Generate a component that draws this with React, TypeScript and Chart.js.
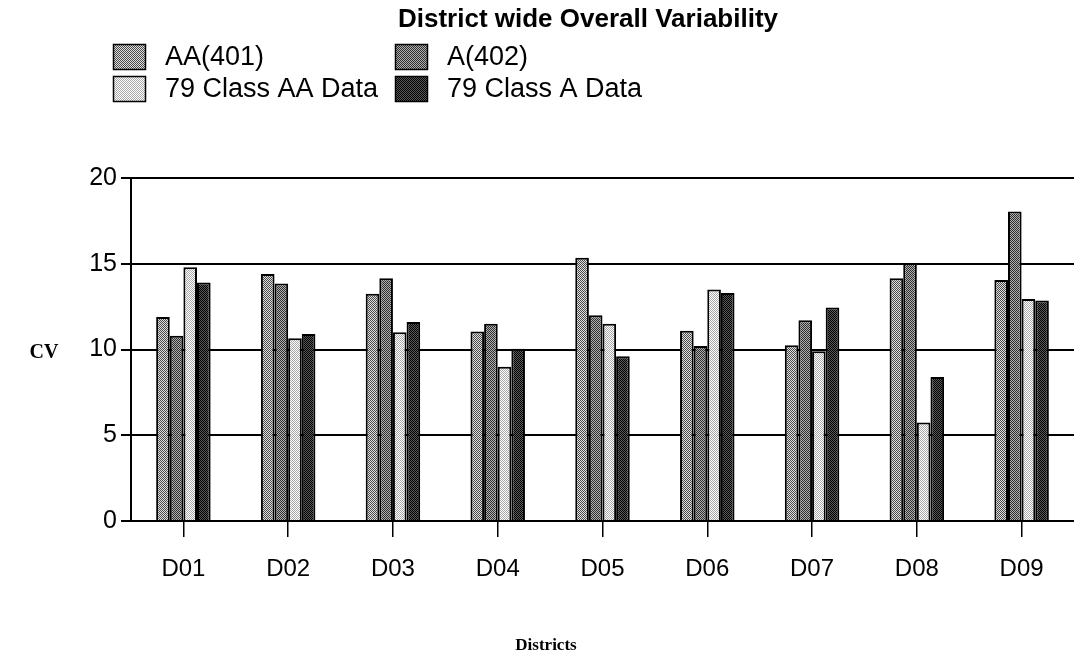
import { useEffect, useRef } from 'react';
import { Chart, registerables } from 'chart.js';

Chart.register(...registerables);

const titleText = 'District wide Overall Variability';
const xAxisTitle = 'Districts';
const yAxisTitle = 'CV';
const categories = ['D01', 'D02', 'D03', 'D04', 'D05', 'D06', 'D07', 'D08', 'D09'];
const seriesNames = ['AA(401)', 'A(402)', '79 Class AA Data', '79 Class A Data'];
const aa401 = [11.9, 14.4, 13.25, 11.05, 15.35, 11.1, 10.25, 14.15, 14.05];
const a402 = [10.8, 13.85, 14.15, 11.5, 12.0, 10.2, 11.7, 15.05, 18.05];
const class79AA = [14.8, 10.65, 11.0, 9.0, 11.5, 13.5, 9.9, 5.75, 12.95];
const class79A = [13.9, 10.9, 11.6, 10.05, 9.6, 13.3, 12.45, 8.4, 12.85];
const yMin = 0;
const yMax = 20;
const yStep = 5;

// pattern tones: [dark pixel, light pixel]
const patternTones: [string, string][] = [
  ['#4a4a4a', '#e0e0e0'],
  ['#2e2e2e', '#b0b0b0'],
  ['#a8a8a8', '#ffffff'],
  ['#000000', '#5a5a5a'],
];

function makePattern(ctx: CanvasRenderingContext2D, dark: string, light: string) {
  const tile = document.createElement('canvas');
  tile.width = 4;
  tile.height = 4;
  const t = tile.getContext('2d')!;
  for (let y = 0; y < 4; y++) {
    for (let x = 0; x < 4; x++) {
      t.fillStyle = (x + y) % 2 === 0 ? dark : light;
      t.fillRect(x, y, 1, 1);
    }
  }
  return ctx.createPattern(tile, 'repeat')!;
}

export default function App() {
  const ref = useRef<HTMLCanvasElement | null>(null);

  useEffect(() => {
    document.body.style.margin = '0';
    const canvas = ref.current!;
    const ctx = canvas.getContext('2d')!;
    const patterns = patternTones.map(([d, l]) => makePattern(ctx, d, l));
    const seriesData = [aa401, a402, class79AA, class79A];

    const deco = {
      id: 'deco',
      afterDraw(chart: any) {
        const c = chart.ctx as CanvasRenderingContext2D;
        c.save();
        c.fillStyle = '#000';
        c.textBaseline = 'middle';
        c.textAlign = 'center';
        c.font = 'bold 26px "Liberation Sans", Arial, sans-serif';
        c.fillText(titleText, 588, 20);

        const colX = [113, 395];
        const rowY = [44, 76];
        seriesNames.forEach((name, i) => {
          const col = i % 2;
          const row = Math.floor(i / 2);
          const bx = colX[col];
          const by = rowY[row];
          c.fillStyle = patterns[i];
          c.fillRect(bx, by, 33, 26);
          c.strokeStyle = '#000';
          c.lineWidth = 1.5;
          c.strokeRect(bx + 0.5, by + 0.5, 32, 25);
          c.fillStyle = '#000';
          c.textAlign = 'left';
          c.font = '27px "Liberation Sans", Arial, sans-serif';
          c.fillText(name, bx + 52, by + 14);
        });

        c.textAlign = 'center';
        c.font = 'bold 20px "Liberation Serif", "Times New Roman", serif';
        c.fillText(yAxisTitle, 44, 353);
        c.font = 'bold 17px "Liberation Serif", "Times New Roman", serif';
        c.fillText(xAxisTitle, 546, 646);
        c.restore();
      },
    };

    const chart = new Chart(canvas, {
      type: 'bar',
      data: {
        labels: categories,
        datasets: seriesNames.map((name, i) => ({
          label: name,
          data: seriesData[i],
          backgroundColor: patterns[i],
          borderColor: '#000',
          borderWidth: 2,
          categoryPercentage: 0.52,
          barPercentage: 1.0,
        })),
      },
      options: {
        responsive: false,
        animation: false,
        layout: { padding: { top: 178, left: 0, right: -4, bottom: 0 } },
        plugins: {
          legend: { display: false },
          title: { display: false },
          tooltip: { enabled: false },
        },
        scales: {
          x: {
            afterFit: (s: any) => {
              s.height = 137;
            },
            grid: {
              display: true,
              offset: false,
              drawOnChartArea: false,
              drawTicks: true,
              tickLength: 16,
              color: '#000',
              lineWidth: 1.5,
            },
            border: { display: true, color: '#000', width: 2 },
            ticks: {
              color: '#000',
              padding: 18,
              font: { family: '"Liberation Sans", Arial, sans-serif', size: 24 },
            },
          },
          y: {
            min: yMin,
            max: yMax,
            afterFit: (s: any) => {
              s.width = 131;
            },
            grid: {
              color: '#000',
              lineWidth: 2,
              drawTicks: true,
              tickLength: 10,
            },
            border: { display: true, color: '#000', width: 2 },
            ticks: {
              stepSize: yStep,
              color: '#000',
              padding: 4,
              font: { family: '"Liberation Sans", Arial, sans-serif', size: 25 },
            },
          },
        },
      },
      plugins: [deco],
    });

    return () => chart.destroy();
  }, []);

  return (
    <div style={{ position: 'relative', width: 1074, height: 658, background: '#fff' }}>
      <canvas ref={ref} width={1074} height={658} style={{ display: 'block' }} />
    </div>
  );
}
